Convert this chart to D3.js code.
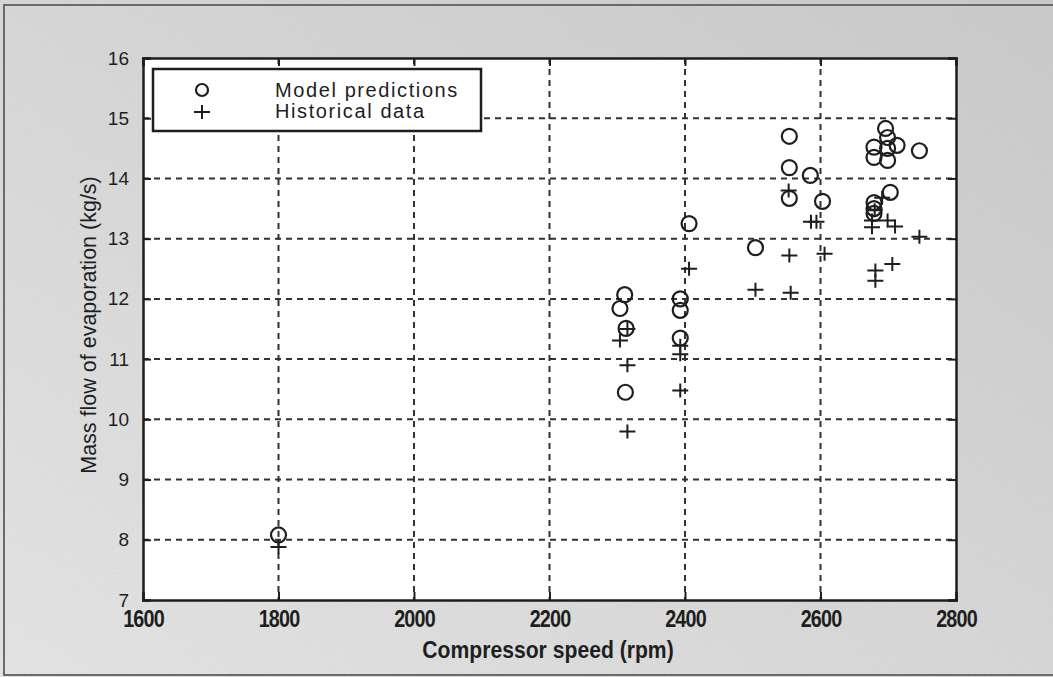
<!DOCTYPE html>
<html>
<head>
<meta charset="utf-8">
<script src="https://cdn.jsdelivr.net/npm/d3@7"></script>
<style>
  body { margin: 0; background: #fff; }
  svg { display: block; }
</style>
</head>
<body>
<div id="chart"></div>
<script>
// model predictions: [speed rpm, mass flow kg/s]
const model_pts = [
    [1800, 8.08],
    [2311, 12.07], [2304, 11.84], [2313, 11.51], [2312, 10.45],
    [2393, 12.0], [2393, 11.81], [2393, 11.35],
    [2406, 13.25],
    [2504, 12.85],
    [2554, 14.7], [2554, 14.18], [2554, 13.67],
    [2585, 14.05],
    [2603, 13.62],
    [2679, 14.52], [2679, 14.35], [2696, 14.83], [2699, 14.68], [2699, 14.5], [2699, 14.3],
    [2713, 14.55], [2746, 14.46],
    [2703, 13.77], [2679, 13.6], [2679, 13.5], [2679, 13.42]
];

// historical data
const hist_pts = [
    [1800, 7.88],
    [2304, 11.31], [2315, 11.5], [2315, 10.9], [2315, 9.8],
    [2393, 11.22], [2393, 11.08], [2393, 10.48],
    [2406, 12.5],
    [2504, 12.15],
    [2553, 13.8], [2554, 12.72], [2556, 12.1],
    [2586, 13.28], [2594, 13.28],
    [2606, 12.75],
    [2691, 13.68], [2680, 13.47], [2676, 13.3], [2676, 13.19], [2699, 13.3], [2710, 13.2],
    [2746, 13.03], [2681, 12.47], [2706, 12.58], [2681, 12.3]
];

const x_ticks = [1600, 1800, 2000, 2200, 2400, 2600, 2800];
const y_ticks = [7, 8, 9, 10, 11, 12, 13, 14, 15, 16];
const legend_labels = ["Model predictions", "Historical data"];

const W = 1053, H = 677;
const ink = "#1e1e1e";

const svg = d3.select("#chart").append("svg")
    .attr("width", W)
    .attr("height", H);

// grey paper background with some grain
const defs = svg.append("defs");
const grad = defs.append("linearGradient").attr("id", "paper")
    .attr("x1", "0%").attr("y1", "100%").attr("x2", "100%").attr("y2", "0%");
grad.append("stop").attr("offset", "0%").attr("stop-color", "#eaeaea");
grad.append("stop").attr("offset", "55%").attr("stop-color", "#dadada");
grad.append("stop").attr("offset", "100%").attr("stop-color", "#cdcdcd");

const noise = defs.append("filter").attr("id", "grain")
    .attr("x", 0).attr("y", 0).attr("width", "100%").attr("height", "100%");
noise.append("feTurbulence")
    .attr("type", "fractalNoise")
    .attr("baseFrequency", 0.8)
    .attr("numOctaves", 2)
    .attr("stitchTiles", "stitch");
noise.append("feColorMatrix")
    .attr("type", "matrix")
    .attr("values", "0 0 0 0 0.4  0 0 0 0 0.4  0 0 0 0 0.4  0 0 0 0.5 0");

svg.append("rect").attr("width", W).attr("height", H).attr("fill", "url(#paper)");
svg.append("rect").attr("width", W).attr("height", H).attr("filter", "url(#grain)").attr("opacity", 0.5);

// frame of the figure
svg.append("path")
    .attr("d", "M1053,5 L4,5 L4,675 L1053,675")
    .attr("fill", "none")
    .attr("stroke", "#6a6a6a")
    .attr("stroke-width", 2);

const margin = {left: 143, top: 58, right: 1053 - 956, bottom: 677 - 600};
const pw = W - margin.left - margin.right;
const ph = H - margin.top - margin.bottom;

const x = d3.scaleLinear().domain([1600, 2800]).range([0, pw]);
const y = d3.scaleLinear().domain([7, 16]).range([ph, 0]);

const g = svg.append("g")
    .attr("transform", "translate(" + margin.left + "," + margin.top + ")");

g.append("rect")
    .attr("width", pw)
    .attr("height", ph)
    .attr("fill", "#fff");

/* сітка */
g.selectAll(".vgrid")
    .data(x_ticks.slice(1, -1))
    .enter().append("line")
    .attr("class", "vgrid")
    .attr("x1", d => x(d)).attr("x2", d => x(d))
    .attr("y1", 0).attr("y2", ph)
    .attr("stroke", "#333")
    .attr("stroke-width", 2)
    .attr("stroke-dasharray", "6,5");

g.selectAll(".hgrid")
    .data(y_ticks.slice(1, -1))
    .enter().append("line")
    .attr("class", "hgrid")
    .attr("x1", 0).attr("x2", pw)
    .attr("y1", d => y(d)).attr("y2", d => y(d))
    .attr("stroke", "#333")
    .attr("stroke-width", 2)
    .attr("stroke-dasharray", "6,5");

// axes, ticks pointing inward
const xAxis = g.append("g")
    .attr("transform", "translate(0," + ph + ")")
    .call(d3.axisBottom(x).tickValues(x_ticks).tickSize(-8).tickPadding(11).tickFormat(d3.format("d")));
const xAxisTop = g.append("g")
    .call(d3.axisTop(x).tickValues(x_ticks).tickSize(-8).tickFormat(""));
const yAxis = g.append("g")
    .call(d3.axisLeft(y).tickValues(y_ticks).tickSize(-8).tickPadding(14).tickFormat(d3.format("d")));
const yAxisRight = g.append("g")
    .attr("transform", "translate(" + pw + ",0)")
    .call(d3.axisRight(y).tickValues(y_ticks).tickSize(-8).tickFormat(""));

[xAxis, xAxisTop, yAxis, yAxisRight].forEach(function(a) {
    a.select(".domain").attr("stroke", ink).attr("stroke-width", 2.5);
    a.selectAll(".tick line").attr("stroke", ink).attr("stroke-width", 2);
});

xAxis.selectAll(".tick text")
    .attr("fill", ink)
    .attr("transform", "scale(0.86,1)")
    .style("font-family", "'Liberation Sans', Arial, sans-serif")
    .style("font-weight", "bold")
    .style("font-size", "23px")
    .style("letter-spacing", "-1px");

yAxis.selectAll(".tick text")
    .attr("fill", ink)
    .style("font-family", "'Liberation Sans', Arial, sans-serif")
    .style("font-size", "19px");

// axis titles
svg.append("text")
    .attr("transform", "translate(548,658) scale(0.92,1)")
    .attr("text-anchor", "middle")
    .attr("fill", ink)
    .style("font-family", "'Liberation Sans', Arial, sans-serif")
    .style("font-weight", "bold")
    .style("font-size", "23px")
    .text("Compressor speed (rpm)");

svg.append("text")
    .attr("transform", "translate(96,325) rotate(-90)")
    .attr("text-anchor", "middle")
    .attr("fill", ink)
    .style("font-family", "'Liberation Sans', Arial, sans-serif")
    .style("font-size", "21.5px")
    .text("Mass flow of evaporation (kg/s)");

/* точки */
g.selectAll(".model")
    .data(model_pts)
    .enter().append("circle")
    .attr("class", "model")
    .attr("cx", d => x(d[0]))
    .attr("cy", d => y(d[1]))
    .attr("r", 7.5)
    .attr("fill", "none")
    .attr("stroke", ink)
    .attr("stroke-width", 2.2);

const plus = "M-8,0H8M0,-7V7";
g.selectAll(".hist")
    .data(hist_pts)
    .enter().append("path")
    .attr("class", "hist")
    .attr("transform", d => "translate(" + x(d[0]) + "," + y(d[1]) + ")")
    .attr("d", plus)
    .attr("fill", "none")
    .attr("stroke", ink)
    .attr("stroke-width", 2);

/* легенда */
const legend = svg.append("g").attr("transform", "translate(153,69)");
legend.append("rect")
    .attr("width", 328)
    .attr("height", 62)
    .attr("fill", "#fff")
    .attr("stroke", ink)
    .attr("stroke-width", 2.5);

legend.append("circle")
    .attr("cx", 49).attr("cy", 21).attr("r", 6)
    .attr("fill", "none").attr("stroke", ink).attr("stroke-width", 2.2);
legend.append("path")
    .attr("transform", "translate(49,43)")
    .attr("d", plus)
    .attr("fill", "none").attr("stroke", ink).attr("stroke-width", 2);

legend.selectAll(".ltext")
    .data(legend_labels)
    .enter().append("text")
    .attr("class", "ltext")
    .attr("x", 122)
    .attr("y", (d, i) => 28 + i * 21)
    .attr("fill", ink)
    .style("font-family", "'Liberation Sans', Arial, sans-serif")
    .style("font-size", "20px")
    .style("letter-spacing", "1.6px")
    .text(d => d);
</script>
</body>
</html>
